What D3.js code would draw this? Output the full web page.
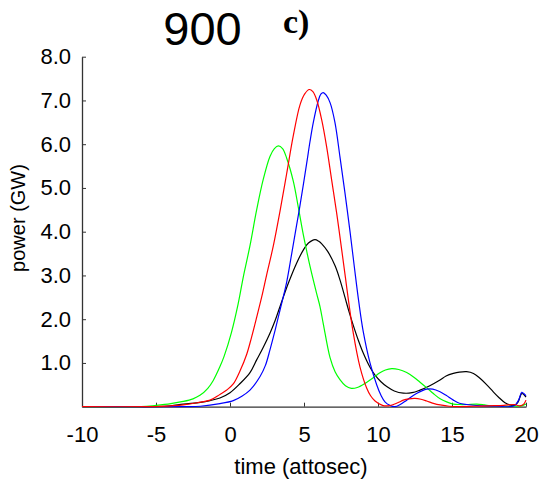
<!DOCTYPE html>
<html>
<head>
<meta charset="utf-8">
<script src="https://cdn.jsdelivr.net/npm/d3@7"></script>
<style>
  html, body { margin: 0; padding: 0; background: #fff; }
  svg { display: block; }
</style>
</head>
<body>
<svg id="chart" width="541" height="479"></svg>
<script>
// Pulse power vs time, four cases; each series is a list of [time (as), power (GW)] samples
const greenSeries = [
  [-10, 0], [-6, 0], [-5, 0.03], [-4, 0.07], [-3.16, 0.12], [-2.5, 0.18], [-2.03, 0.26],
  [-1.5, 0.42], [-1.13, 0.6], [-0.7, 0.9], [-0.4, 1.15], [0.1, 1.7], [0.55, 2.35],
  [0.9, 2.97], [1.35, 3.68], [1.8, 4.5], [2.25, 5.2], [2.7, 5.72], [3.0, 5.9],
  [3.27, 5.96], [3.55, 5.9], [3.83, 5.68], [4.28, 5.15], [4.62, 4.55], [4.96, 3.92],
  [5.18, 3.56], [5.4, 3.22], [5.86, 2.58], [6.08, 2.29], [6.3, 1.9], [6.76, 1.12],
  [7.1, 0.8], [7.43, 0.62], [7.8, 0.48], [8.2, 0.42], [8.6, 0.44], [9.2, 0.55],
  [9.68, 0.66], [10.1, 0.77], [10.5, 0.84], [10.93, 0.87], [11.4, 0.85], [11.94, 0.78],
  [12.4, 0.68], [12.84, 0.56], [13.3, 0.43], [13.74, 0.3], [14.2, 0.18], [14.64, 0.11],
  [15.1, 0.06], [15.5, 0.05], [16.0, 0.05], [16.67, 0.06], [17.2, 0.04], [17.6, 0.02],
  [18.5, 0.01], [19.2, 0.01], [19.7, 0.02], [20, 0.06]
];

const redSeries = [
  [-10, 0], [-5.5, 0], [-5, 0.005], [-4, 0.02], [-3.16, 0.04], [-2.2, 0.09], [-1.35, 0.15],
  [-0.68, 0.28], [-0.22, 0.38], [0.22, 0.52], [0.68, 0.82], [1.13, 1.2], [1.45, 1.58],
  [1.8, 2.04], [2.15, 2.52], [2.48, 3.02], [2.93, 3.68], [3.38, 4.47], [3.83, 5.33],
  [4.28, 6.2], [4.73, 6.9], [5.05, 7.15], [5.36, 7.25], [5.6, 7.2], [5.86, 7.01],
  [6.2, 6.55], [6.53, 5.94], [6.87, 5.18], [7.21, 4.42], [7.55, 3.58], [7.8, 2.95],
  [8.0, 2.44], [8.33, 1.68], [8.78, 0.91], [9.24, 0.42], [9.5, 0.25], [9.8, 0.13],
  [10.3, 0.03], [10.7, 0.02], [11.04, 0.05], [11.4, 0.1], [11.71, 0.15], [12.1, 0.18],
  [12.5, 0.19], [12.9, 0.17], [13.29, 0.13], [13.8, 0.07], [14.2, 0.04], [14.8, 0.01],
  [15.5, 0.0], [16.5, 0.01], [17.5, 0.02], [18.5, 0.03], [19.2, 0.05], [19.6, 0.02],
  [19.85, 0.06], [20, 0.15]
];

const blueSeries = [
  [-10, 0], [-3, 0], [-2, 0.01], [-0.68, 0.07], [0.22, 0.14], [0.8, 0.24], [1.35, 0.38],
  [2.03, 0.69], [2.4, 0.95], [2.7, 1.3], [3.05, 1.75], [3.38, 2.21], [3.83, 2.85],
  [4.17, 3.5], [4.5, 4.15], [4.73, 4.6], [5.18, 5.56], [5.4, 6.05], [5.63, 6.5],
  [5.97, 7.0], [6.15, 7.15], [6.3, 7.18], [6.5, 7.12], [6.76, 6.95], [7.09, 6.5],
  [7.43, 5.71], [7.77, 4.88], [8.11, 4.0], [8.4, 3.2], [8.7, 2.4], [9.0, 1.72],
  [9.46, 1.0], [9.91, 0.5], [10.2, 0.26], [10.47, 0.11], [10.8, 0.03], [11.15, 0.0],
  [11.5, 0.05], [11.94, 0.15], [12.6, 0.3], [13.29, 0.4], [13.7, 0.4], [14.19, 0.34],
  [14.6, 0.26], [15.09, 0.15], [15.5, 0.08], [16, 0.05], [17, 0.02], [18, 0.01],
  [19.2, 0.02], [19.5, 0.15], [19.71, 0.33], [19.85, 0.3], [20, 0.25]
];

const blackSeries = [
  [-10, 0], [-5, 0], [-4, 0.02], [-3.16, 0.06], [-2, 0.1], [-1.35, 0.14], [-0.68, 0.2],
  [0.0, 0.32], [0.68, 0.53], [1.35, 0.78], [1.8, 1.07], [2.25, 1.36], [2.7, 1.68],
  [3.05, 1.97], [3.38, 2.29], [3.94, 2.82], [4.5, 3.28], [4.95, 3.58], [5.3, 3.74],
  [5.74, 3.82], [6.0, 3.78], [6.2, 3.72], [6.6, 3.55], [7.1, 3.22],
  [7.43, 2.9], [7.77, 2.5], [8.0, 2.22], [8.33, 1.86], [8.67, 1.52], [9.01, 1.22],
  [9.46, 0.9], [9.8, 0.72], [10.2, 0.57], [10.59, 0.46], [11.1, 0.36], [11.71, 0.31],
  [12.3, 0.32], [12.84, 0.38], [13.5, 0.48], [14.19, 0.61], [14.6, 0.7], [15.09, 0.76],
  [15.5, 0.79], [15.99, 0.8], [16.45, 0.76], [16.89, 0.65], [17.35, 0.5], [17.79, 0.34],
  [18.2, 0.2], [18.58, 0.09], [18.9, 0.04], [19.2, 0.03], [19.45, 0.1], [19.71, 0.3],
  [19.85, 0.28], [20, 0.22]
];

const seriesList = [
  { name: "black", color: "#000000", points: blackSeries },
  { name: "green", color: "#00ff00", points: greenSeries },
  { name: "blue", color: "#0000ff", points: blueSeries },
  { name: "red", color: "#ff0000", points: redSeries }
];

const xTicks = [-10, -5, 0, 5, 10, 15, 20];
const yTicks = [1, 2, 3, 4, 5, 6, 7, 8];
const titleText = "900";
const panelText = "c)";
const xLabel = "time (attosec)";
const yLabel = "power (GW)";

const svg = d3.select("#chart");
const plot = { left: 82, right: 526, top: 56.7, bottom: 406.7 };

const x = d3.scaleLinear().domain([-10, 20]).range([plot.left, plot.right]);
const y = d3.scaleLinear().domain([0, 8]).range([plot.bottom, plot.top]);

const fontSans = "'Liberation Sans', Arial, sans-serif";
const axisColor = "#333";

// y axis, ticks pointing inward
const yAxis = d3.axisLeft(y)
  .tickValues(yTicks)
  .tickFormat(d3.format(".1f"))
  .tickSizeInner(-4)
  .tickSizeOuter(0)
  .tickPadding(11);

const gy = svg.append("g")
  .attr("transform", `translate(${plot.left},0)`)
  .call(yAxis);
gy.select(".domain").attr("stroke", axisColor).attr("stroke-width", 1.3);
gy.selectAll(".tick line").attr("stroke", axisColor);
gy.selectAll(".tick text")
  .attr("font-size", 22)
  .attr("font-family", fontSans)
  .attr("fill", "#000");

// x axis, ticks pointing inward; plain hyphen for negatives
const xAxis = d3.axisBottom(x)
  .tickValues(xTicks)
  .tickFormat(d => String(d))
  .tickSizeInner(-4)
  .tickSizeOuter(0)
  .tickPadding(20);

const gx = svg.append("g")
  .attr("transform", `translate(0,${plot.bottom})`)
  .call(xAxis);
gx.select(".domain").attr("stroke", axisColor).attr("stroke-width", 1.3);
gx.selectAll(".tick line").attr("stroke", axisColor);
gx.selectAll(".tick text")
  .attr("font-size", 22)
  .attr("font-family", fontSans)
  .attr("fill", "#000");

// curves, drawn over the axes
svg.append("clipPath").attr("id", "plot-clip")
  .append("rect")
  .attr("x", plot.left).attr("y", plot.top - 5)
  .attr("width", plot.right - plot.left + 2)
  .attr("height", plot.bottom - plot.top + 5.7);

const line = d3.line()
  .x(d => x(d[0]))
  .y(d => y(d[1]))
  .curve(d3.curveCatmullRom.alpha(0.5));

svg.append("g")
  .attr("clip-path", "url(#plot-clip)")
  .selectAll("path")
  .data(seriesList)
  .join("path")
  .attr("d", d => line(d.points))
  .attr("fill", "none")
  .attr("stroke", d => d.color)
  .attr("stroke-width", 1.2);

// axis titles
svg.append("text")
  .attr("x", 301)
  .attr("y", 473.5)
  .attr("text-anchor", "middle")
  .attr("font-family", fontSans)
  .attr("font-size", 22)
  .text(xLabel);

svg.append("text")
  .attr("transform", "translate(25,218) rotate(-90)")
  .attr("text-anchor", "middle")
  .attr("font-family", fontSans)
  .attr("font-size", 20)
  .text(yLabel);

// headings
svg.append("text")
  .attr("x", 202.5)
  .attr("y", 45)
  .attr("text-anchor", "middle")
  .attr("font-family", fontSans)
  .attr("font-size", 47)
  .text(titleText);

svg.append("text")
  .attr("x", 283)
  .attr("y", 33)
  .attr("font-family", "'Liberation Serif', 'Times New Roman', serif")
  .attr("font-weight", "bold")
  .attr("font-size", 34)
  .text(panelText);
</script>
</body>
</html>
